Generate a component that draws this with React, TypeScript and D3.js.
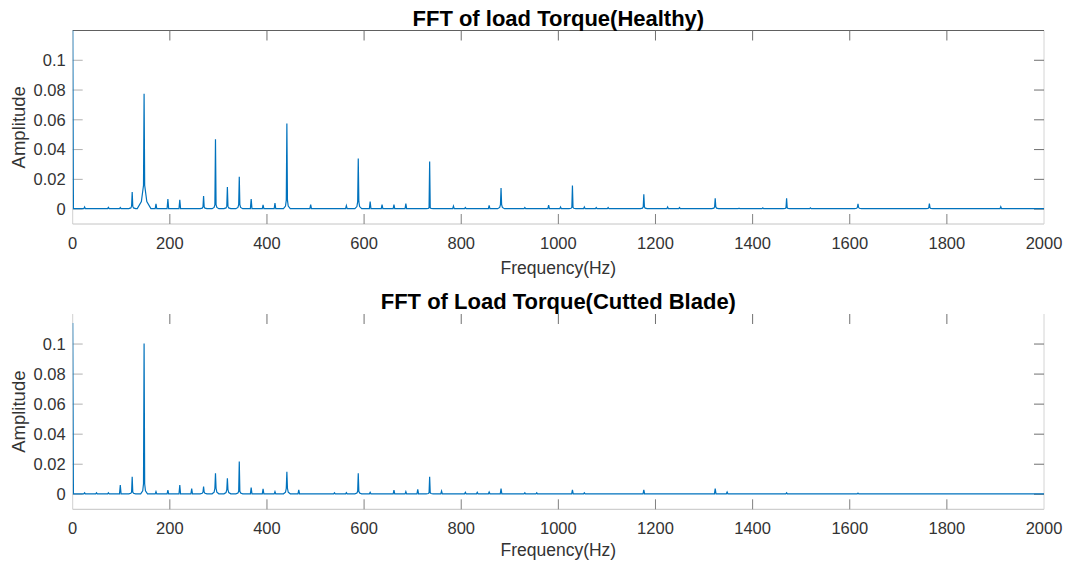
import React from "react";
import * as d3 from "d3";

// ---- data ----
const xTickValues = [0, 200, 400, 600, 800, 1000, 1200, 1400, 1600, 1800, 2000];
const yTickValues = [0, 0.02, 0.04, 0.06, 0.08, 0.1];
const yTickLabels = ["0", "0.02", "0.04", "0.06", "0.08", "0.1"];

// Healthy spectrum peaks: frequency (Hz), peak amplitude, skirt amplitude near the peak
const healthyFreq = [0, 24.5, 73.5, 98, 122.5, 147, 171.5, 196, 220.5, 269.5, 294, 318.5, 343, 367.5, 392, 416.5, 441, 490, 563.5, 588, 612.5, 637, 661.5, 686, 735, 784, 808.5, 857.5, 882, 931, 980, 1004.5, 1029, 1053.5, 1078, 1102.5, 1176, 1225, 1249.5, 1323, 1372, 1421, 1470, 1519, 1617, 1764, 1911];
const healthyAmp = [0.13, 0.0015, 0.0012, 0.001, 0.0115, 0.0775, 0.0035, 0.0068, 0.0062, 0.0088, 0.047, 0.0148, 0.0218, 0.0068, 0.0028, 0.004, 0.0575, 0.003, 0.0023, 0.034, 0.005, 0.003, 0.003, 0.0037, 0.032, 0.002, 0.001, 0.0025, 0.0142, 0.001, 0.0027, 0.0015, 0.0158, 0.0015, 0.001, 0.001, 0.0099, 0.0015, 0.001, 0.0072, 0.0006, 0.0008, 0.0072, 0.0008, 0.0035, 0.0038, 0.0016];
const healthySkirt = [0, 0, 0, 0, 0.002, 0.016, 0, 0, 0, 0.0015, 0.003, 0.002, 0.003, 0, 0, 0, 0.006, 0, 0, 0.005, 0, 0, 0, 0, 0.001, 0, 0, 0, 0.003, 0, 0, 0, 0.0012, 0, 0, 0, 0.0015, 0, 0, 0.0015, 0, 0, 0.001, 0, 0.0012, 0.001, 0];

// Cutted blade spectrum peaks
const cuttedFreq = [0, 24.5, 49, 73.5, 98, 122.5, 147, 171.5, 196, 220.5, 245, 269.5, 294, 318.5, 343, 367.5, 392, 416.5, 441, 465.5, 539, 563.5, 588, 612.5, 661.5, 686, 710.5, 735, 759.5, 808.5, 833, 857.5, 882, 931, 955.5, 1029, 1053.5, 1176, 1323, 1347.5, 1470, 1617];
const cuttedAmp = [0.114, 0.001, 0.001, 0.001, 0.0062, 0.0116, 0.1004, 0.0018, 0.0027, 0.0062, 0.0038, 0.0051, 0.014, 0.0107, 0.0218, 0.0044, 0.0036, 0.0018, 0.0149, 0.0029, 0.001, 0.0011, 0.014, 0.0013, 0.0027, 0.0018, 0.0033, 0.0116, 0.0022, 0.0013, 0.0013, 0.0015, 0.0038, 0.001, 0.001, 0.003, 0.001, 0.003, 0.0038, 0.0015, 0.001, 0.0008];
const cuttedSkirt = [0, 0, 0, 0, 0, 0.0015, 0.007, 0, 0, 0, 0, 0.0015, 0.004, 0.003, 0.002, 0, 0, 0, 0.004, 0, 0, 0, 0.002, 0, 0, 0, 0, 0.001, 0, 0, 0, 0, 0, 0, 0, 0, 0, 0, 0, 0, 0, 0];

const baseLevel = 0.0003;

type Pt = [number, number];

function buildSpectrum(freqs: number[], amps: number[], skirts: number[]): Pt[] {
  const pts: Pt[] = [];
  freqs.forEach((f, i) => {
    const a = amps[i];
    const s = skirts[i];
    if (f === 0) {
      pts.push([0, a]);
      pts.push([1.5, baseLevel]);
      return;
    }
    if (s > baseLevel) {
      const w = s > 0.008 ? 14 : 7;
      pts.push([f - w, baseLevel]);
      pts.push([f - w * 0.4, baseLevel + (s - baseLevel) * 0.3]);
      pts.push([f - 1.2, s]);
      pts.push([f, a]);
      pts.push([f + 1.2, s]);
      pts.push([f + w * 0.4, baseLevel + (s - baseLevel) * 0.3]);
      pts.push([f + w, baseLevel]);
    } else {
      pts.push([f - 1.6, baseLevel]);
      pts.push([f, a]);
      pts.push([f + 1.6, baseLevel]);
    }
  });
  pts.push([2000, baseLevel]);
  return pts;
}

const FONT = "'Liberation Sans', Arial, Helvetica, sans-serif";
const LINE = "#0072BD";

interface PanelProps {
  id: string;
  title: string;
  top: number;
  bottom: number;
  titleY: number;
  xLabelY: number;
  data: Pt[];
  showTopBorder: boolean;
}

const X0 = 72.7;
const X1 = 1044;

function Panel({ id, title, top, bottom, titleY, xLabelY, data, showTopBorder }: PanelProps) {
  const x = d3.scaleLinear().domain([0, 2000]).range([X0, X1]);
  const y = d3.scaleLinear().domain([-0.01, 0.12]).range([bottom, top]);
  const line = d3
    .line<Pt>()
    .x((d) => x(d[0]))
    .y((d) => y(d[1]));
  const tickLen = 10;
  const midX = (X0 + X1) / 2;
  const midY = (top + bottom) / 2;
  return (
    <g>
      <defs>
        <clipPath id={id}>
          <rect x={X0} y={top} width={X1 - X0} height={bottom - top} />
        </clipPath>
      </defs>
      {/* box */}
      <line x1={X0} x2={X0} y1={top} y2={bottom} stroke="#d0d0d0" />
      <line x1={X0} x2={X1} y1={bottom} y2={bottom} stroke="#c4c4c4" />
      <line x1={X1} x2={X1} y1={top} y2={bottom} stroke="#d4d4d4" />
      {showTopBorder && <line x1={X0} x2={X1} y1={top} y2={top} stroke="#606060" />}
      {/* x ticks */}
      {xTickValues.map((v) => (
        <g key={"xt" + v}>
          {v > 0 && v < 2000 && (
            <>
              <line x1={x(v)} x2={x(v)} y1={bottom} y2={bottom - tickLen} stroke="#808080" />
              <line x1={x(v)} x2={x(v)} y1={top} y2={top + tickLen} stroke="#707070" />
            </>
          )}
          <text
            x={x(v)}
            y={bottom + 25}
            textAnchor="middle"
            fontFamily={FONT}
            fontSize={16.5}
            fill="#333"
          >
            {v}
          </text>
        </g>
      ))}
      {/* y ticks */}
      {yTickValues.map((v, i) => (
        <g key={"yt" + v}>
          <line x1={X0} x2={X0 + tickLen} y1={y(v)} y2={y(v)} stroke="#b0b0b0" />
          <line x1={X1} x2={X1 - tickLen} y1={y(v)} y2={y(v)} stroke="#707070" />
          <text
            x={X0 - 7}
            y={y(v)}
            dy="0.35em"
            textAnchor="end"
            fontFamily={FONT}
            fontSize={16.5}
            fill="#333"
          >
            {yTickLabels[i]}
          </text>
        </g>
      ))}
      {/* spectrum */}
      <path
        d={line(data) || ""}
        fill="none"
        stroke={LINE}
        strokeWidth={1.2}
        clipPath={`url(#${id})`}
      />
      {/* labels */}
      <text
        x={midX}
        y={titleY}
        textAnchor="middle"
        fontFamily={FONT}
        fontSize={22}
        fontWeight="bold"
        fill="#000"
      >
        {title}
      </text>
      <text
        x={midX}
        y={xLabelY}
        textAnchor="middle"
        fontFamily={FONT}
        fontSize={17.5}
        fill="#333"
      >
        Frequency(Hz)
      </text>
      <text
        transform={`translate(25,${midY}) rotate(-90)`}
        textAnchor="middle"
        fontFamily={FONT}
        fontSize={18.5}
        fill="#333"
      >
        Amplitude
      </text>
    </g>
  );
}

export default function App() {
  const healthy = buildSpectrum(healthyFreq, healthyAmp, healthySkirt);
  const cutted = buildSpectrum(cuttedFreq, cuttedAmp, cuttedSkirt);
  return (
    <svg
      width={1065}
      height={562}
      style={{ position: "absolute", left: 0, top: 0, background: "#fff" }}
    >
      <rect width={1065} height={562} fill="#fff" />
      <Panel
        id="clipTop"
        title="FFT of load Torque(Healthy)"
        top={30.5}
        bottom={224}
        titleY={25.5}
        xLabelY={274}
        data={healthy}
        showTopBorder={true}
      />
      <Panel
        id="clipBottom"
        title="FFT of Load Torque(Cutted Blade)"
        top={314}
        bottom={509.3}
        titleY={309}
        xLabelY={556}
        data={cutted}
        showTopBorder={false}
      />
    </svg>
  );
}
